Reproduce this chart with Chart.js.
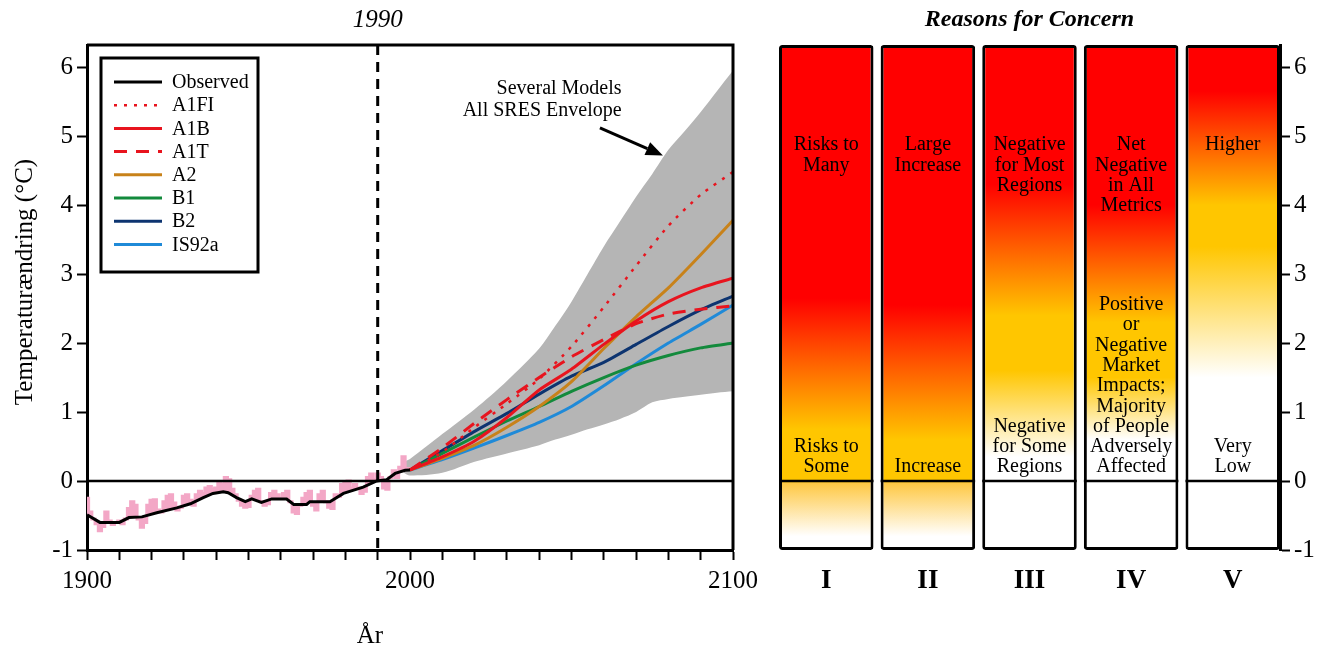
<!DOCTYPE html>
<html><head><meta charset="utf-8">
<script src="https://cdn.jsdelivr.net/npm/chart.js@4.4.1/dist/chart.umd.min.js"></script>
<style>
html,body{margin:0;padding:0;background:#fff;}
#wrap{position:relative;width:1329px;height:655px;overflow:hidden;}
#c1{position:absolute;left:0;top:0;}
#c2{position:absolute;left:760px;top:0;}
</style></head><body>
<div id="wrap">
<canvas id="c1" width="780" height="655"></canvas>
<canvas id="c2" width="569" height="655"></canvas>
</div>
<script>
const FONT = "'Liberation Serif', 'Times New Roman', serif";
Chart.defaults.font.family = FONT;
Chart.defaults.color = '#000';

// ---------------- data ----------------
const yTicks = [-1, 0, 1, 2, 3, 4, 5, 6];
const yMin = -1, yMax = 6.32;
const xTicks = [1900,1910,1920,1930,1940,1950,1960,1970,1980,1990,2000,2010,2020,2030,2040,2050,2060,2070,2080,2090,2100];
const xTickLabels = [1900, 2000, 2100];
const markYear = 1990;

const annualStart = 1900;
const annualTemp = [
 -0.25,-0.45,-0.55,-0.62,-0.72,-0.66,-0.45,-0.58,-0.63,-0.60,
 -0.58,-0.62,-0.55,-0.40,-0.30,-0.35,-0.55,-0.67,-0.60,-0.35,
 -0.28,-0.27,-0.42,-0.45,-0.30,-0.22,-0.20,-0.32,-0.42,-0.38,
 -0.22,-0.20,-0.28,-0.35,-0.20,-0.15,-0.18,-0.10,-0.08,-0.12,
 -0.10,-0.02,-0.05, 0.05, 0.02,-0.12,-0.20,-0.28,-0.35,-0.38,
 -0.37,-0.22,-0.15,-0.12,-0.30,-0.35,-0.33,-0.18,-0.15,-0.20,
 -0.25,-0.18,-0.15,-0.30,-0.45,-0.47,-0.35,-0.25,-0.18,-0.15,
 -0.35,-0.42,-0.20,-0.15,-0.30,-0.38,-0.40,-0.20,-0.22,-0.05,
 -0.02, 0.00,-0.10,-0.05,-0.10,-0.18,-0.15, 0.05, 0.10, 0.02,
  0.10, 0.05,-0.10,-0.12, 0.05, 0.15, 0.05, 0.20, 0.35, 0.18,
  0.18];

const obsYears = [1900,1904,1910,1913,1917,1921.6,1927.8,1932,1936,1939,1942.2,1943.7,1946.3,1949,1951,1954,1957.2,1961.8,1964,1968,1969,1975.2,1979.4,1985.5,1989.7,1992.8,1995.4,1998.5,2000];
const obsTemp  = [-0.49,-0.60,-0.60,-0.53,-0.52,-0.46,-0.39,-0.33,-0.24,-0.18,-0.155,-0.17,-0.24,-0.30,-0.26,-0.31,-0.26,-0.26,-0.34,-0.34,-0.30,-0.30,-0.18,-0.09,0.0,0.02,0.11,0.155,0.16];

const projYears = [2000,2010,2020,2030,2040,2050,2060,2070,2080,2090,2100];
const a1fi  = [0.16,0.42,0.78,1.12,1.48,1.95,2.52,3.12,3.70,4.15,4.48];
const a1b   = [0.16,0.35,0.58,0.92,1.32,1.62,1.98,2.32,2.60,2.80,2.94];
const a1t   = [0.16,0.48,0.84,1.18,1.50,1.80,2.05,2.28,2.42,2.49,2.54];
const a2    = [0.16,0.33,0.52,0.78,1.08,1.44,1.92,2.38,2.80,3.28,3.78];
const b1    = [0.16,0.40,0.64,0.87,1.08,1.30,1.50,1.68,1.82,1.93,2.00];
const b2    = [0.16,0.44,0.72,0.98,1.26,1.52,1.72,1.98,2.24,2.48,2.68];
const is92a = [0.16,0.31,0.48,0.66,0.85,1.08,1.38,1.70,2.00,2.27,2.55];

const envYears = [1998,2000,2010,2020,2030,2040,2045,2050,2055,2060,2065,2070,2075,2080,2085,2090,2095,2100];
const envUpper = [0.28,0.32,0.68,1.04,1.45,1.92,2.25,2.60,3.00,3.40,3.76,4.12,4.45,4.80,5.07,5.35,5.65,5.95];
const envLower = [0.12,0.08,0.12,0.28,0.40,0.52,0.60,0.67,0.75,0.82,0.90,1.00,1.14,1.19,1.22,1.25,1.28,1.30];

const legendOrder = ['Observed','A1FI','A1B','A1T','A2','B1','B2','IS92a'];
const noteLines = ['Several Models', 'All SRES Envelope'];

// Reasons for concern panel
const concernCats = ['I','II','III','IV','V'];
const redDownTo    = [2.65, 2.55, 4.3, 4.0, 5.65];
const yellowTop    = [0.75, 0.60, 2.4, 2.3, 4.0];
const yellowBottom = [0.0, 0.0, 1.6, 1.5, 3.4];
const whiteFrom    = [null, null, 0.35, 0.6, 1.5];
const belowFadeTo  = [-0.8, -0.8, null, null, null];
const topLabels = [
  ['Risks to','Many'],
  ['Large','Increase'],
  ['Negative','for Most','Regions'],
  ['Net','Negative','in All','Metrics'],
  ['Higher']
];
const bottomLabels = [
  ['Risks to','Some'],
  ['Increase'],
  ['Negative','for Some','Regions'],
  ['Positive','or','Negative','Market','Impacts;','Majority','of People','Adversely','Affected'],
  ['Very','Low']
];

// ---------------- helpers ----------------
const pts = (xs, ys) => xs.map((x, i) => ({x: x, y: ys[i]}));
const annualPts = annualTemp.map((v, i) => ({x: annualStart + i, y: v}));

const RED = '#e8141e';
function scen(label, data, color, extra) {
  return Object.assign({
    label: label, data: pts(projYears, data), borderColor: color, backgroundColor: color,
    borderWidth: 3, pointRadius: 0, tension: 0.2, fill: false, order: 2
  }, extra || {});
}

const leftPlugin = {
  id: 'leftDecor',
  afterDatasetsDraw(chart) {
    const c = chart.ctx, a = chart.chartArea, xs = chart.scales.x, ys = chart.scales.y;
    c.save();
    c.strokeStyle = '#000'; c.lineWidth = 3;
    c.beginPath(); c.moveTo(a.left, a.top); c.lineTo(a.right, a.top); c.lineTo(a.right, a.bottom); c.stroke();
    const y0 = ys.getPixelForValue(0);
    c.lineWidth = 2.5; c.beginPath(); c.moveTo(a.left, y0); c.lineTo(a.right, y0); c.stroke();
    const xm = xs.getPixelForValue(markYear);
    c.setLineDash([10, 7]); c.lineWidth = 3;
    c.beginPath(); c.moveTo(xm, a.top); c.lineTo(xm, a.bottom); c.stroke();
    c.setLineDash([]);
    c.fillStyle = '#000';
    c.font = 'italic 25px ' + FONT; c.textAlign = 'center'; c.textBaseline = 'middle';
    c.fillText(String(markYear), xm, 20);
    // annotation
    c.font = '20px ' + FONT; c.textAlign = 'right';
    const nx = xs.getPixelForValue(2065.5);
    c.fillText(noteLines[0], nx, ys.getPixelForValue(5.68));
    c.fillText(noteLines[1], nx, ys.getPixelForValue(5.36));
    const x1 = xs.getPixelForValue(2058.8), y1 = ys.getPixelForValue(5.12);
    const x2 = xs.getPixelForValue(2078.3), y2 = ys.getPixelForValue(4.72);
    const ang = Math.atan2(y2 - y1, x2 - x1);
    const hl = 17, hw = 7;
    const bx = x2 - hl * Math.cos(ang), by = y2 - hl * Math.sin(ang);
    c.lineWidth = 3; c.beginPath(); c.moveTo(x1, y1); c.lineTo(bx, by); c.stroke();
    c.beginPath(); c.moveTo(x2, y2);
    c.lineTo(bx + hw * Math.sin(ang), by - hw * Math.cos(ang));
    c.lineTo(bx - hw * Math.sin(ang), by + hw * Math.cos(ang));
    c.closePath(); c.fill();
    // legend
    const lx = a.left + 14, ly = a.top + 13, lw = 157, lh = 214;
    c.fillStyle = '#fff'; c.fillRect(lx, ly, lw, lh);
    c.strokeStyle = '#000'; c.lineWidth = 3; c.strokeRect(lx, ly, lw, lh);
    c.font = '20px ' + FONT; c.textAlign = 'left'; c.textBaseline = 'middle';
    legendOrder.forEach((name, i) => {
      const ds = chart.data.datasets.find(d => d.label === name);
      const yy = ly + 24 + i * 23.2;
      c.strokeStyle = ds.borderColor; c.lineWidth = ds.borderWidth;
      c.setLineDash(ds.borderDash || []);
      c.beginPath(); c.moveTo(lx + 13, yy); c.lineTo(lx + 61, yy); c.stroke();
      c.setLineDash([]);
      c.fillStyle = '#000'; c.fillText(name, lx + 71, yy + 1);
    });
    // axis titles
    c.font = '25px ' + FONT; c.textAlign = 'center'; c.textBaseline = 'middle'; c.fillStyle = '#000';
    c.fillText('År', 370, 636);
    c.translate(25, 282); c.rotate(-Math.PI / 2);
    c.fillText('Temperaturændring (°C)', 0, 0);
    c.restore();
  }
};

new Chart(document.getElementById('c1'), {
  type: 'line',
  data: {
    datasets: [
      {label: 'Observed', data: pts(obsYears, obsTemp), borderColor: '#000', borderWidth: 3, pointRadius: 0, tension: 0, order: 0},
      scen('A1FI', a1fi, RED, {borderDash: [3, 7], borderWidth: 2.5, order: 1}),
      scen('A1B', a1b, RED),
      scen('A1T', a1t, RED, {borderDash: [13, 9], order: 1}),
      scen('A2', a2, '#c8821a'),
      scen('B1', b1, '#138a3c'),
      scen('B2', b2, '#0d3470'),
      scen('IS92a', is92a, '#1f8ad8', {order: 2.5}),
      {label: 'Annual', data: annualPts, borderColor: '#f3a7c6', backgroundColor: '#f3a7c6', borderWidth: 3, pointRadius: 0, stepped: 'middle', fill: 0, order: 5},
      {label: 'EnvUpper', data: pts(envYears, envUpper), borderWidth: 0, borderColor: 'rgba(0,0,0,0)', backgroundColor: '#b5b5b5', pointRadius: 0, tension: 0.3, fill: 10, order: 8},
      {label: 'EnvLower', data: pts(envYears, envLower), borderWidth: 0, borderColor: 'rgba(0,0,0,0)', pointRadius: 0, tension: 0.3, fill: false, order: 9}
    ]
  },
  options: {
    responsive: false, animation: false, events: [],
    layout: {padding: {left: 0, top: 45, right: 47, bottom: 0}},
    plugins: {legend: {display: false}, tooltip: {enabled: false}},
    scales: {
      x: {
        type: 'linear', min: 1900, max: 2100,
        afterBuildTicks: s => { s.ticks = xTicks.map(v => ({value: v})); },
        afterFit: s => { s.height = 105; },
        grid: {drawOnChartArea: false, drawTicks: true, tickLength: 10, tickWidth: 2, tickColor: '#000'},
        border: {display: true, color: '#000', width: 3},
        ticks: {autoSkip: false, maxRotation: 0, padding: 6, font: {size: 25}, color: '#000',
          callback: v => xTickLabels.includes(v) ? String(v) : ''}
      },
      y: {
        min: yMin, max: yMax,
        afterBuildTicks: s => { s.ticks = yTicks.map(v => ({value: v})); },
        afterFit: s => { s.width = 87; },
        grid: {drawOnChartArea: false, drawTicks: true, tickLength: 10, tickWidth: 2, tickColor: '#000'},
        border: {display: true, color: '#000', width: 3},
        ticks: {padding: 4, font: {size: 25}, color: '#000', callback: v => String(v)}
      }
    }
  },
  plugins: [leftPlugin]
});

// ---------------- right panel ----------------
const C_RED = '#ff0000', C_YEL = '#ffc600', C_YEL2 = '#fec843';
function colGradient(chart, i) {
  const y = chart.scales.y;
  if (!y || !chart.chartArea) return C_RED;
  const top = y.getPixelForValue(yMax), bot = y.getPixelForValue(yMin);
  const g = chart.ctx.createLinearGradient(0, top, 0, bot);
  const off = v => Math.min(1, Math.max(0, (y.getPixelForValue(v) - top) / (bot - top)));
  g.addColorStop(0, C_RED);
  g.addColorStop(off(redDownTo[i]), C_RED);
  g.addColorStop(off(yellowTop[i]), C_YEL);
  g.addColorStop(off(yellowBottom[i]), C_YEL);
  if (whiteFrom[i] !== null) {
    g.addColorStop(off(whiteFrom[i]), '#ffffff');
    g.addColorStop(1, '#ffffff');
  } else {
    const z = off(0);
    g.addColorStop(Math.min(1, z + 0.004), C_YEL2);
    g.addColorStop(off(belowFadeTo[i]), '#ffffff');
    g.addColorStop(1, '#ffffff');
  }
  return g;
}

const rightPlugin = {
  id: 'rightDecor',
  afterDatasetsDraw(chart) {
    const c = chart.ctx, a = chart.chartArea, ys = chart.scales.y;
    const meta = chart.getDatasetMeta(0);
    const y0 = ys.getPixelForValue(0);
    c.save();
    c.fillStyle = '#000'; c.strokeStyle = '#000';
    c.textAlign = 'center'; c.textBaseline = 'middle';
    meta.data.forEach((bar, i) => {
      const p = bar.getProps(['x', 'width'], true);
      c.lineWidth = 2.5;
      c.beginPath(); c.moveTo(p.x - p.width / 2, y0); c.lineTo(p.x + p.width / 2, y0); c.stroke();
      c.font = '20px ' + FONT;
      const t0 = ys.getPixelForValue(4.87);
      topLabels[i].forEach((s, k) => c.fillText(s, p.x, t0 + k * 20.3));
      const b0 = ys.getPixelForValue(0.2);
      const n = bottomLabels[i].length;
      bottomLabels[i].forEach((s, k) => c.fillText(s, p.x, b0 - (n - 1 - k) * 20.3));
    });
    c.font = 'bold italic 24px ' + FONT;
    c.fillText('Reasons for Concern', (a.left + a.right) / 2, 20);
    c.restore();
  }
};

const catPad = 0.465;
new Chart(document.getElementById('c2'), {
  type: 'bar',
  data: {
    datasets: [{
      label: 'Reasons for Concern',
      data: concernCats.map((_, i) => ({x: i, y: [yMin, yMax]})),
      backgroundColor: ctx => colGradient(ctx.chart, ctx.dataIndex),
      borderColor: '#000', borderWidth: 3, borderSkipped: false, borderRadius: 3,
      barPercentage: 0.93, categoryPercentage: 1.0, clip: false
    }]
  },
  options: {
    responsive: false, animation: false, events: [],
    layout: {padding: {left: 19, top: 45, right: 0, bottom: 0}},
    plugins: {legend: {display: false}, tooltip: {enabled: false}},
    scales: {
      x: {
        type: 'linear', min: -catPad, max: concernCats.length - 1 + catPad, offset: false,
        afterBuildTicks: s => { s.ticks = concernCats.map((_, i) => ({value: i})); },
        afterFit: s => { s.height = 105; },
        grid: {display: false, drawTicks: false},
        border: {display: false},
        ticks: {padding: 15, autoSkip: false, maxRotation: 0, font: {size: 27, weight: 'bold'}, color: '#000',
          callback: v => concernCats[v] || ''}
      },
      y: {
        position: 'right', min: yMin, max: yMax,
        afterBuildTicks: s => { s.ticks = yTicks.map(v => ({value: v})); },
        afterFit: s => { s.width = 49; },
        grid: {drawOnChartArea: false, drawTicks: true, tickLength: 10, tickWidth: 2, tickColor: '#000'},
        border: {display: true, color: '#000', width: 3},
        ticks: {padding: 4, font: {size: 25}, color: '#000', callback: v => String(v)}
      }
    }
  },
  plugins: [rightPlugin]
});
</script>
</body></html>
